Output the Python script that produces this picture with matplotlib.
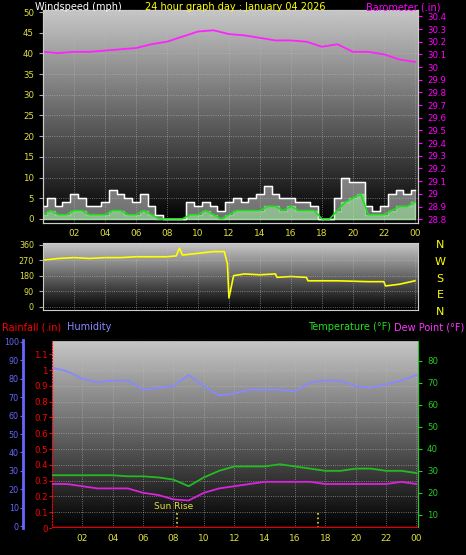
import matplotlib.pyplot as plt
import numpy as np

plt.rcParams['font.family'] = 'DejaVu Sans'
W, H = 466, 555

# ---- data ----
half_hours = np.arange(49) / 2.0
gust = [3, 5, 3, 4, 6, 5, 3, 3, 4, 7, 6, 5, 4, 6, 3,
        1, 0, 0, 0, 4, 3, 4, 3, 2, 4,
        5, 4, 5, 6, 8, 6, 5, 5, 4, 4, 3, 0,
        0, 5, 10, 9, 9, 3, 2, 3, 6, 7, 6, 7]
avg_wind = [1, 2, 1, 1, 2, 2, 1, 1, 1, 2, 2, 1, 1, 2, 1,
            0, 0, 0, 0, 1, 1, 2, 1, 0, 1,
            2, 2, 2, 2, 3, 3, 2, 3, 2, 2, 2, 0,
            0, 2, 4, 5, 6, 1, 1, 1, 2, 3, 3, 4]

hours = np.arange(25)
baro = [30.12, 30.11, 30.12, 30.12, 30.13, 30.14, 30.15, 30.18, 30.20, 30.24, 30.28, 30.29, 30.26,
        30.25, 30.23, 30.21, 30.21, 30.20, 30.16, 30.18, 30.12, 30.12, 30.10, 30.06, 30.04]

dir_hours = [0, 1, 2, 3, 4, 5, 6, 7, 8, 8.6, 8.8, 9, 10, 11, 11.7, 11.9, 12.0, 12.3, 13, 14, 15, 15.1, 16, 17, 17.1, 19, 21, 22, 22.1, 23, 24]
wind_dir = [270, 280, 285, 280, 285, 285, 290, 290, 290, 295, 340, 300, 310, 320, 320, 250, 50, 180, 190, 185, 190, 170, 175, 170, 150, 150, 145, 145, 120, 130, 150]

humidity = [86, 84, 80, 78, 79, 79, 74, 75, 76, 82, 76, 71, 72, 74, 74, 74, 73, 78, 79, 79, 76, 75, 77, 79, 82]
temperature = [28, 28, 28, 28, 28, 27.5, 27.5, 27, 26, 23, 27, 30, 32, 32, 32, 33, 32, 31, 30, 30, 31, 31, 30, 30, 29]
dew_point = [24, 24, 23, 22, 22, 22, 20, 19, 17, 16.5, 20, 22, 23, 24, 25, 25, 25, 25, 24, 24, 24, 24, 24, 25, 24]
rain = [0] * 25

xticks = [2, 4, 6, 8, 10, 12, 14, 16, 18, 20, 22, 24]
xlabels = ['02', '04', '06', '08', '10', '12', '14', '16', '18', '20', '22', '00']

fig = plt.figure(figsize=(W / 100, H / 100), dpi=100, facecolor='black')

def box(x0, y0, x1, y1):
    return [x0 / W, 1 - y1 / H, (x1 - x0) / W, (y1 - y0) / H]

grad = np.linspace(0.78, 0.0, 256).reshape(-1, 1)

def style(ax, xlim, ylim):
    ax.set_xlim(*xlim)
    ax.set_ylim(*ylim)
    ax.imshow(grad, cmap='gray', vmin=0, vmax=1, aspect='auto',
              extent=[xlim[0], xlim[1], ylim[0], ylim[1]], zorder=0)
    ax.set_facecolor('black')
    ax.grid(True, color='#bbbbbb', ls=':', lw=0.6, alpha=0.7)
    ax.set_axisbelow(False)
    for s in ax.spines.values():
        s.set_color('#cccccc')
    ax.set_xticks(xticks)
    ax.set_xticklabels(xlabels, color='#e0e040', fontsize=6.5)
    ax.tick_params(axis='x', length=0, pad=4)

fs = 6.2
# ---- panel 1: wind speed + barometer ----
ax1 = fig.add_axes(box(43, 10, 418, 223))
style(ax1, (0, 24.2), (-1, 50.5))
ax1.set_yticks(range(0, 51, 5))
ax1.tick_params(axis='y', colors='#aaaaaa', labelcolor='#e0e040', labelsize=fs, length=3)
ax1.fill_between(half_hours, 0, gust, step='mid', color='#dddddd', alpha=0.5, zorder=2)
ax1.step(half_hours, gust, where='mid', color='white', lw=1, zorder=3)
ax1.fill_between(half_hours, 0, avg_wind, step='mid', color='#aaffaa', alpha=0.5, zorder=3)
ax1.plot(half_hours, avg_wind, color='#22dd22', lw=1.2, zorder=4)
axb = ax1.twinx()
axb.set_ylim(28.77, 30.45)
bt = np.round(np.arange(28.8, 30.41, 0.1), 1)
axb.set_yticks(bt)
axb.set_yticklabels([('%g' % v) for v in bt])
axb.tick_params(axis='y', colors='#ff00ff', labelcolor='#ff00ff', labelsize=fs, length=3)
axb.plot(hours, baro, color='#ff22ff', lw=1.3)
for s in axb.spines.values():
    s.set_color('#cccccc')

fig.text(35 / W, 1 - 7 / H, 'Windspeed (mph)', color='white', fontsize=7, va='center')
fig.text(235 / W, 1 - 7 / H, '24 hour graph day : January 04 2026', color='yellow', fontsize=7, va='center', ha='center')
fig.text(440 / W, 1 - 7 / H, 'Barometer (.in)', color='#ff00ff', fontsize=7, va='center', ha='right')

# ---- panel 2: wind direction ----
ax2 = fig.add_axes(box(43, 243, 418, 310))
style(ax2, (0, 24.2), (-20, 370))
ax2.set_yticks([0, 90, 180, 270, 360])
ax2.tick_params(axis='y', colors='#aaaaaa', labelcolor='#e0e040', labelsize=5.8, length=3)
ax2.set_xticklabels([])
ax2.plot(dir_hours, wind_dir, color='yellow', lw=1.2)
for i, c in enumerate('NWSEN'):
    fig.text(440 / W, 1 - (245 + i * 16.8) / H, c, color='yellow', fontsize=8, ha='center', va='center')

# ---- panel 3: rain, humidity, temperature, dew point ----
ax3 = fig.add_axes(box(52, 340, 418, 528))
style(ax3, (0, 24.1), (0, 1.19))
rt = np.round(np.arange(0, 1.11, 0.1), 1)
ax3.set_yticks(rt)
ax3.set_yticklabels([('%g' % v) for v in rt])
ax3.tick_params(axis='y', colors='red', labelcolor='red', labelsize=fs, length=2, pad=1)
ax3.spines['left'].set_color('red')
ax3.spines['left'].set_linestyle(':')
ax3.plot(hours, rain, color='red', lw=2.5, zorder=5)
axh = ax3.twinx()
axh.yaxis.set_ticks_position('left')
axh.yaxis.set_label_position('left')
axh.spines['left'].set_position(('outward', 21))
axh.spines['left'].set_color('#6666ff')
axh.spines['left'].set_linewidth(2)
axh.spines['right'].set_visible(False)
axh.set_ylim(-1, 101)
axh.set_yticks(range(0, 101, 10))
axh.tick_params(axis='y', colors='#6666ff', labelcolor='#6666ff', labelsize=5.8, length=2, pad=1)
axh.plot(hours, humidity, color='#8888ff', lw=1.3)
axt = ax3.twinx()
axt.set_ylim(4, 89.5)
axt.set_yticks(range(10, 90, 10))
axt.tick_params(axis='y', colors='#22cc22', labelcolor='#22cc22', labelsize=fs, length=3)
axt.spines['right'].set_color('#22cc22')
axt.spines['left'].set_visible(False)
axt.plot(hours, temperature, color='#22bb22', lw=1.3)
axt.plot(hours, dew_point, color='#dd22dd', lw=1.3)
for xv in (8.2, 17.5):
    ax3.plot([xv, xv], [0, 0.1], color='#e0e040', ls=':', lw=1.2)
ax3.text(8.0, 0.11, 'Sun Rise', color='#e0e040', fontsize=6.5, ha='center', va='bottom')

fig.text(2 / W, 1 - 327 / H, 'Rainfall (.in)', color='red', fontsize=7, va='center')
fig.text(67 / W, 1 - 327 / H, 'Humidity', color='#8888ff', fontsize=7, va='center')
fig.text(391 / W, 1 - 327 / H, 'Temperature (°F)', color='#22dd22', fontsize=7, va='center', ha='right')
fig.text(464 / W, 1 - 327 / H, 'Dew Point (°F)', color='#ff33ff', fontsize=7, va='center', ha='right')

fig.savefig('out.png', dpi=100, facecolor='black')
